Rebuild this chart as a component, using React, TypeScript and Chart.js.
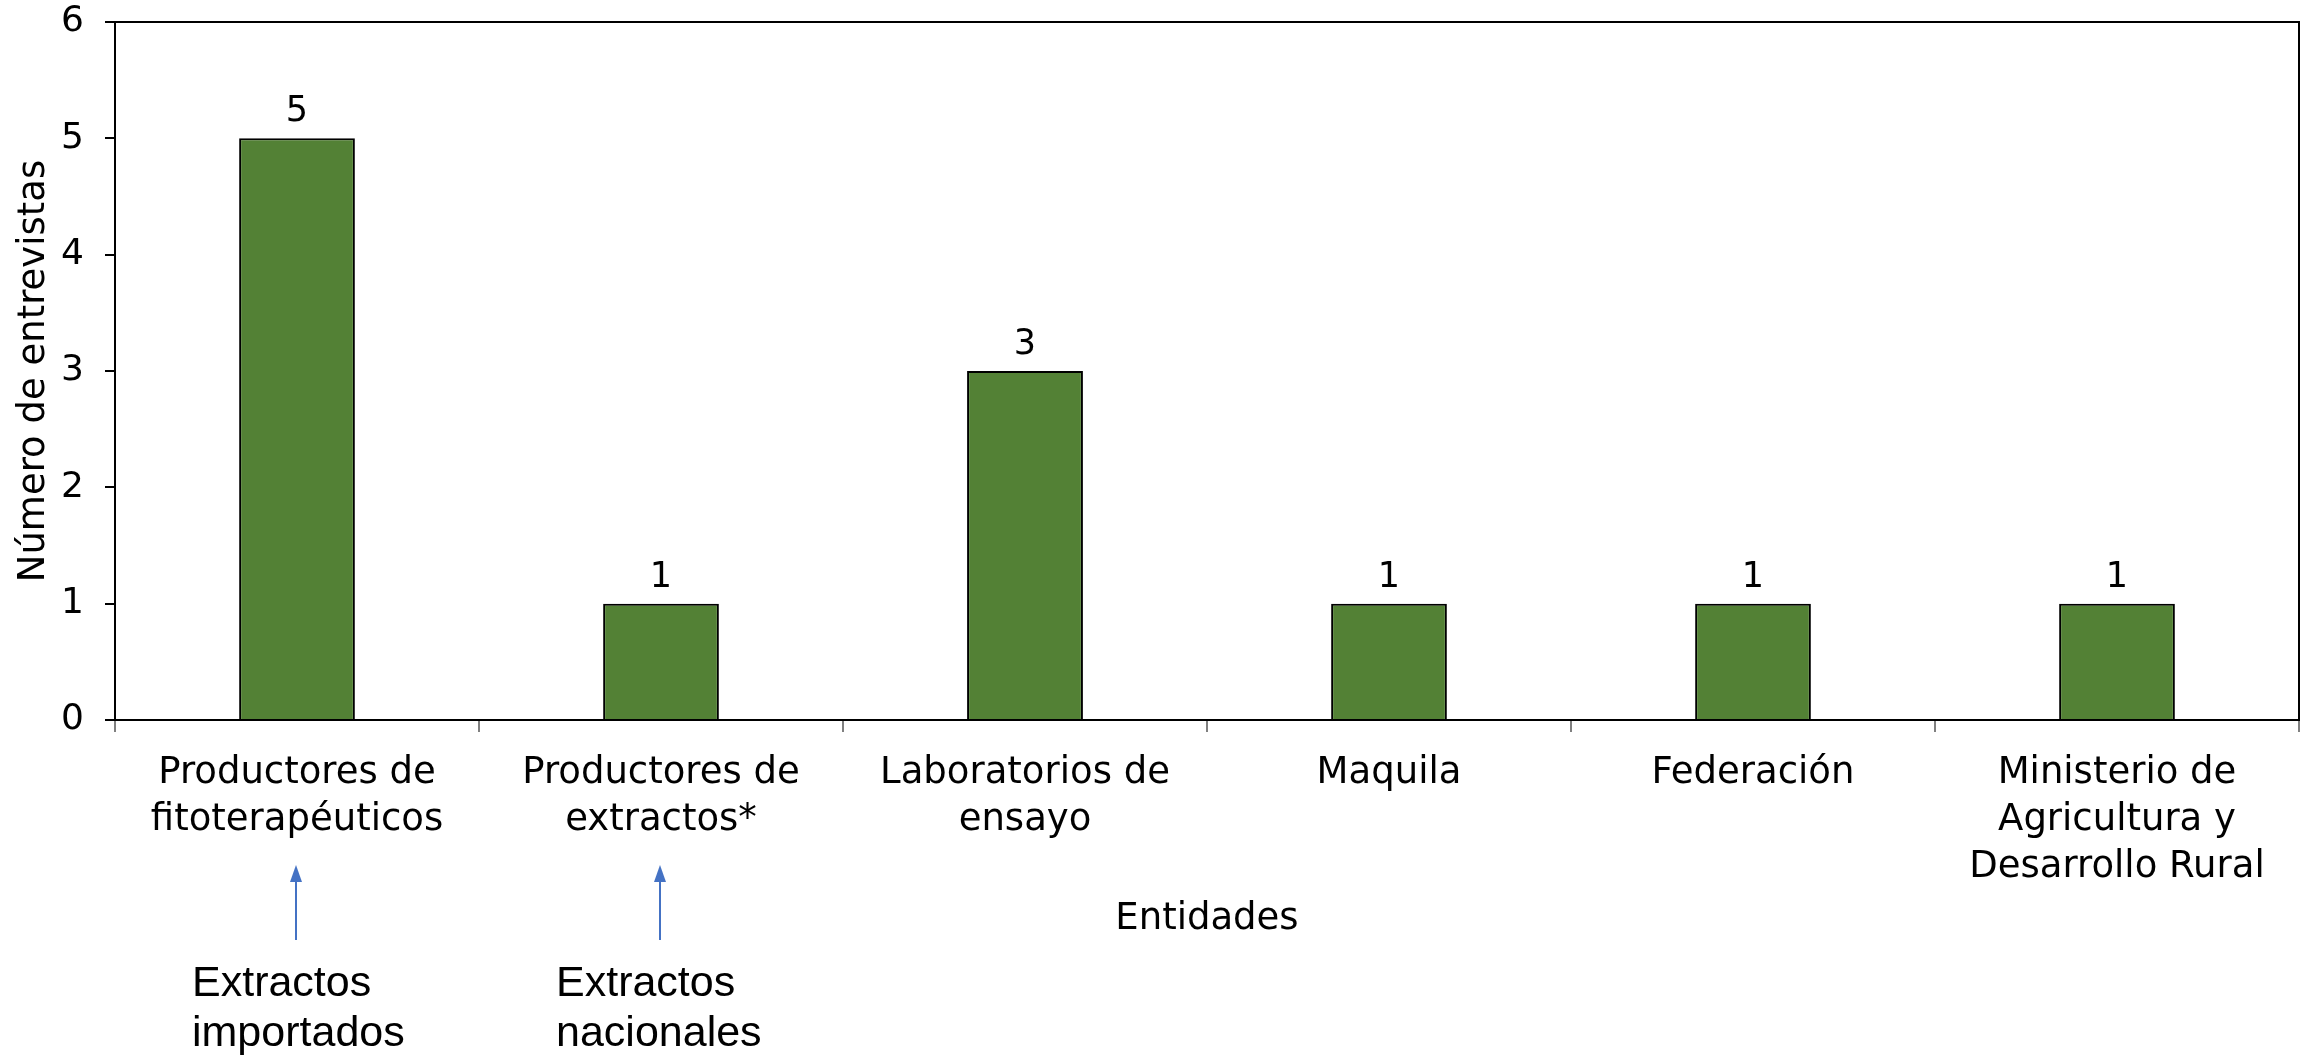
import React, { useEffect, useRef } from "react";
import { Chart, registerables } from "chart.js";

Chart.register(...registerables);

const categories: string[][] = [
  ["Productores de", "fitoterapéuticos"],
  ["Productores de", "extractos*"],
  ["Laboratorios de", "ensayo"],
  ["Maquila"],
  ["Federación"],
  ["Ministerio de", "Agricultura y", "Desarrollo Rural"],
];
const values: number[] = [5, 1, 3, 1, 1, 1];
const yMin = 0;
const yMax = 6;
const yStep = 1;
const yTitle = "Número de entrevistas";
const xTitle = "Entidades";
const noteCategories: number[] = [0, 1];
const noteTexts: string[][] = [
  ["Extractos", "importados"],
  ["Extractos", "nacionales"],
];

const FONT = '"DejaVu Sans", Verdana, sans-serif';

const framePlugin = {
  id: "frame",
  afterDraw(chart: any) {
    const { ctx, chartArea } = chart;
    ctx.save();
    ctx.strokeStyle = "#000";
    ctx.lineWidth = 2;
    ctx.beginPath();
    ctx.moveTo(chartArea.left, chartArea.top);
    ctx.lineTo(chartArea.right, chartArea.top);
    ctx.lineTo(chartArea.right, chartArea.bottom);
    ctx.stroke();
    ctx.restore();
  },
};

const labelPlugin = {
  id: "valueLabels",
  afterDatasetsDraw(chart: any) {
    const { ctx } = chart;
    const meta = chart.getDatasetMeta(0);
    ctx.save();
    ctx.font = `35px ${FONT}`;
    ctx.fillStyle = "#000";
    ctx.textAlign = "center";
    ctx.textBaseline = "middle";
    meta.data.forEach((bar: any, i: number) => {
      ctx.fillText(String(values[i]), bar.x, bar.y - 26);
    });
    ctx.restore();
  },
};

const notePlugin = {
  id: "notes",
  afterDraw(chart: any) {
    const { ctx } = chart;
    const xs = chart.scales.x;
    ctx.save();
    noteCategories.forEach((cat, i) => {
      const cx = xs.getPixelForValue(cat) - 1;
      const tipY = 865;
      const baseY = 940;
      ctx.strokeStyle = "#4472C4";
      ctx.fillStyle = "#4472C4";
      ctx.lineWidth = 2;
      ctx.beginPath();
      ctx.moveTo(cx, baseY);
      ctx.lineTo(cx, tipY + 14);
      ctx.stroke();
      ctx.beginPath();
      ctx.moveTo(cx, tipY);
      ctx.lineTo(cx - 6, tipY + 17);
      ctx.lineTo(cx + 6, tipY + 17);
      ctx.closePath();
      ctx.fill();
      ctx.fillStyle = "#000";
      ctx.font = '43px "Liberation Sans", Arial, sans-serif';
      ctx.textAlign = "left";
      ctx.textBaseline = "alphabetic";
      noteTexts[i].forEach((line, j) => {
        ctx.fillText(line, cx - 104, 996 + j * 50);
      });
    });
    ctx.restore();
  },
};

export default function App() {
  const ref = useRef<HTMLCanvasElement | null>(null);
  useEffect(() => {
    document.body.style.margin = "0";
    const canvas = ref.current;
    if (!canvas) return;
    const chart = new Chart(canvas, {
      type: "bar",
      data: {
        labels: categories,
        datasets: [
          {
            data: values,
            backgroundColor: "#538135",
            borderColor: "#000",
            borderWidth: 2,
            barPercentage: 0.636,
            categoryPercentage: 0.5,
          },
        ],
      },
      options: {
        animation: false,
        responsive: false,
        devicePixelRatio: 1,
        layout: { padding: { top: 22, right: 8, left: 0, bottom: 0 } },
        plugins: {
          legend: { display: false },
          tooltip: { enabled: false },
        },
        scales: {
          x: {
            offset: true,
            grid: {
              offset: true,
              drawOnChartArea: false,
              drawTicks: true,
              tickLength: 12,
              color: "#808080",
              lineWidth: 2,
            },
            border: { display: true, color: "#000", width: 2 },
            ticks: {
              color: "#000",
              font: { family: FONT, size: 37, lineHeight: "47px" },
              padding: 18,
              maxRotation: 0,
              autoSkip: false,
            },
            title: {
              display: true,
              text: xTitle,
              color: "#000",
              font: { family: FONT, size: 37, lineHeight: 1.2 },
              padding: { top: 0, bottom: 113 },
            },
            afterFit(scale: any) {
              scale.height = 335;
              scale.paddingLeft = 0;
              scale.paddingRight = 0;
            },
          },
          y: {
            min: yMin,
            max: yMax,
            ticks: {
              stepSize: yStep,
              color: "#000",
              font: { family: FONT, size: 36 },
              padding: 21,
            },
            grid: {
              drawOnChartArea: false,
              drawTicks: true,
              tickLength: 10,
              color: "#000",
              lineWidth: 2,
            },
            border: { display: true, color: "#000", width: 2 },
            title: {
              display: true,
              text: yTitle,
              color: "#000",
              font: { family: FONT, size: 37, lineHeight: 1.2 },
              padding: { top: 12, bottom: 0 },
            },
            afterFit(scale: any) {
              scale.width = 115;
              scale.paddingTop = 0;
              scale.paddingBottom = 0;
            },
          },
        },
      },
      plugins: [framePlugin, labelPlugin, notePlugin],
    });
    return () => chart.destroy();
  }, []);
  return (
    <div style={{ width: 2307, height: 1055, background: "#fff" }}>
      <canvas ref={ref} width={2307} height={1055} style={{ display: "block" }} />
    </div>
  );
}
